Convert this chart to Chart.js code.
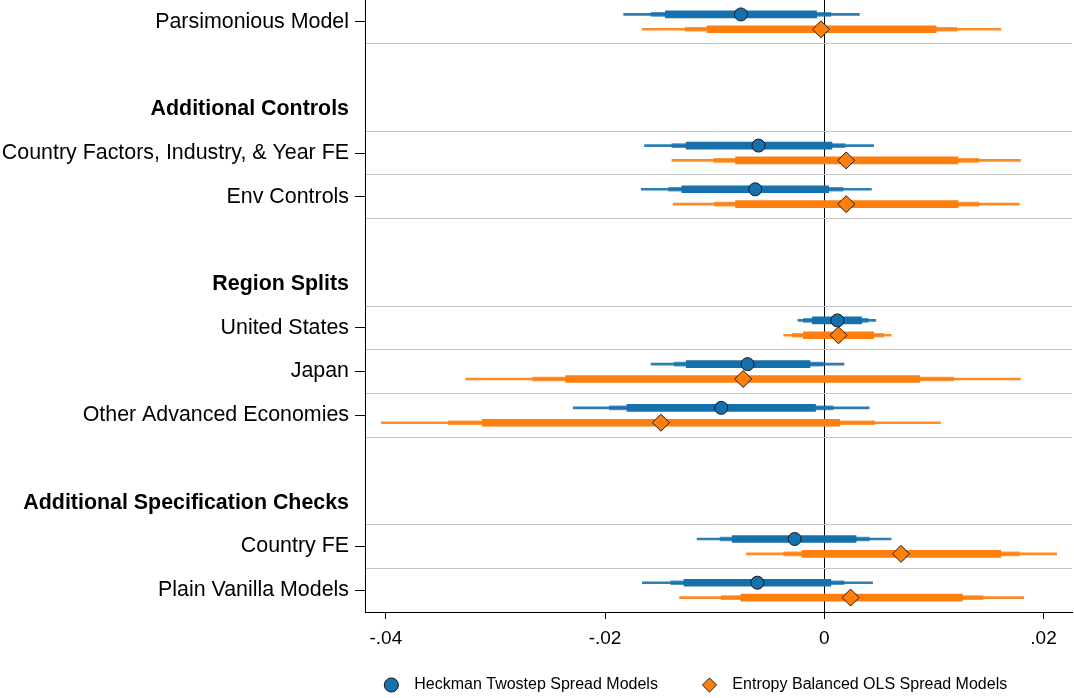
<!DOCTYPE html>
<html>
<head>
<meta charset="utf-8">
<script src="https://cdn.jsdelivr.net/npm/chart.js@4.4.0/dist/chart.umd.min.js"></script>
<style>
html, body { margin: 0; padding: 0; overflow: hidden; background: #fff; }
#wrap { width: 1074px; height: 703px; }
</style>
</head>
<body>
<div id="wrap"><canvas id="chart"></canvas></div>
<script>
// rows from top to bottom, '' = spacer row
const rowLabels = [
    "Parsimonious Model", "", "Additional Controls",
    "Country Factors, Industry, & Year FE", "Env Controls", "", "Region Splits",
    "United States", "Japan", "Other Advanced Economies", "", "Additional Specification Checks",
    "Country FE", "Plain Vanilla Models"
];
const headerLabels = ["Additional Controls", "Region Splits", "Additional Specification Checks"];
const models = [
    "Parsimonious Model", "Country Factors, Industry, & Year FE", "Env Controls",
    "United States", "Japan", "Other Advanced Economies", "Country FE", "Plain Vanilla Models"
];

// Heckman Twostep Spread Models
const heckEst = [-0.0076, -0.0060, -0.0063, 0.0012, -0.0070, -0.0094, -0.0027, -0.0061];
const heckOuter = [[-0.0183, 0.0032], [-0.0164, 0.0045], [-0.0167, 0.0043], [-0.0024, 0.0047], [-0.0158, 0.0018], [-0.0229, 0.0041], [-0.0116, 0.0061], [-0.0166, 0.0044]];
const heckMid = [[-0.0158, 0.0006], [-0.0139, 0.0019], [-0.0142, 0.0017], [-0.0019, 0.0040], [-0.0137, -0.0001], [-0.0196, 0.0008], [-0.0095, 0.0041], [-0.0140, 0.0018]];
const heckInner = [[-0.0145, -0.0007], [-0.0126, 0.0007], [-0.0130, 0.0004], [-0.0011, 0.0034], [-0.0126, -0.0013], [-0.0180, -0.0008], [-0.0084, 0.0029], [-0.0128, 0.0006]];

// Entropy Balanced OLS Spread Models
const ebEst = [-0.0003, 0.0020, 0.0020, 0.0013, -0.0074, -0.0149, 0.0070, 0.0024];
const ebOuter = [[-0.0166, 0.0161], [-0.0139, 0.0179], [-0.0138, 0.0178], [-0.0037, 0.0061], [-0.0327, 0.0179], [-0.0404, 0.0106], [-0.0071, 0.0212], [-0.0132, 0.0182]];
const ebMid = [[-0.0127, 0.0121], [-0.0101, 0.0141], [-0.0100, 0.0141], [-0.0029, 0.0054], [-0.0266, 0.0118], [-0.0343, 0.0046], [-0.0037, 0.0178], [-0.0094, 0.0145]];
const ebInner = [[-0.0107, 0.0102], [-0.0081, 0.0122], [-0.0081, 0.0122], [-0.0019, 0.0045], [-0.0236, 0.0087], [-0.0312, 0.0014], [-0.0020, 0.0161], [-0.0076, 0.0126]];

const xTicks = [-0.04, -0.02, 0, 0.02];
const seriesNames = ["Heckman Twostep Spread Models", "Entropy Balanced OLS Spread Models"];

coefChart();

function coefChart() {
    const $chart = document.querySelector("#chart");
    if(!$chart) {
        return;
    }
    const FONT = "'Liberation Sans', Arial, Helvetica, sans-serif";
    const BLUE = "#1670ab";
    const ORANGE = "#fe7f0e";
    const NONE = "rgba(0,0,0,0)";

    const rowPos = models.map(m => rowLabels.indexOf(m) + 0.5);

    // label centres for the labelled axis, row borders for the grid axis
    const centres = rowLabels.map((l, i) => l ? i + 0.5 : null).filter(v => v !== null);
    const borders = [];
    rowPos.forEach(p => {
        [p - 0.5, p + 0.5].forEach(b => {
            if(b > 0 && b < rowLabels.length && !borders.includes(b)) borders.push(b);
        });
    });
    borders.sort((a, b) => a - b);

    const labelAt = v => (v % 1 === 0.5) ? rowLabels[Math.floor(v)] : null;
    const isHeader = v => headerLabels.includes(labelAt(v));
    const isModel = v => models.includes(labelAt(v));

    function bars(ci, offset, color, thickness, order) {
        return {
            type: "bar",
            indexAxis: "y",
            data: ci.map((c, i) => ({x: c, y: rowPos[i] + offset})),
            backgroundColor: color,
            borderWidth: 0,
            barThickness: thickness,
            grouped: false,
            order: order,
        };
    }

    function points(est, offset, color, style, radius, label) {
        return {
            type: "scatter",
            label: label,
            data: est.map((v, i) => ({x: v, y: rowPos[i] + offset})),
            pointStyle: style,
            pointRadius: radius,
            backgroundColor: color,
            borderColor: "#1a1a1a",
            borderWidth: 1,
            order: 0,
        };
    }

    const datasets = [
        bars(heckOuter, -0.17, "rgba(22,112,171,0.9)", 2, 5),
        bars(ebOuter, 0.17, "rgba(254,127,14,0.9)", 2, 5),
        bars(heckMid, -0.17, "rgba(22,112,171,0.75)", 4, 4),
        bars(ebMid, 0.17, "rgba(254,127,14,0.8)", 4, 4),
        bars(heckInner, -0.17, BLUE, 7, 3),
        bars(ebInner, 0.17, ORANGE, 7, 3),
        points(heckEst, -0.17, BLUE, "circle", 6.5, seriesNames[0]),
        points(ebEst, 0.17, ORANGE, "rectRot", 8.5, seriesNames[1]),
    ];

    new Chart($chart.getContext("2d"), {
        type: "bar",
        data: {datasets: datasets},
        options: {
            responsive: true,
            maintainAspectRatio: false,
            animation: false,
            layout: {autoPadding: false, padding: {top: 0, right: 2, bottom: 0, left: 0}},
            plugins: {
                tooltip: {enabled: false},
                legend: {
                    position: "bottom",
                    fullSize: false,
                    labels: {
                        usePointStyle: true,
                        boxWidth: 12,
                        boxHeight: 10,
                        padding: 10,
                        color: "#000",
                        font: {family: FONT, size: 16},
                        filter: (item, data) => data.datasets[item.datasetIndex].type === "scatter",
                        generateLabels: chart => {
                            const items = Chart.defaults.plugins.legend.labels.generateLabels(chart);
                            items.forEach(it => {
                                if(it.text === seriesNames[0]) it.text = "  " + it.text + "        ";
                                if(it.text === seriesNames[1]) it.text = "  " + it.text + "          ";
                            });
                            return items;
                        },
                    },
                },
            },
            scales: {
                x: {
                    type: "linear",
                    offset: false,
                    min: -0.0419,
                    max: 0.0226,
                    afterBuildTicks: s => { s.ticks = xTicks.map(v => ({value: v})); },
                    afterFit: s => { s.height = 55; s.paddingLeft = 0; s.paddingRight = 0; },
                    ticks: {
                        autoSkip: false,
                        maxRotation: 0,
                        padding: 8,
                        color: "#000",
                        font: {family: FONT, size: 19},
                        callback: v => v === 0 ? "0" : v.toFixed(2).replace("0.", "."),
                    },
                    grid: {
                        offset: false,
                        color: ctx => ctx.tick && ctx.tick.value === 0 ? "#000" : NONE,
                        tickColor: "#000",
                        tickLength: 7,
                        lineWidth: 1,
                    },
                    border: {color: "#000", width: 1},
                },
                // grey separators between model rows
                yGrid: {
                    type: "linear",
                    position: "left",
                    offset: false,
                    min: 0,
                    max: rowLabels.length,
                    reverse: true,
                    afterBuildTicks: s => { s.ticks = borders.map(v => ({value: v})); },
                    afterFit: s => { s.width = 0; s.paddingTop = 0; s.paddingBottom = 0; },
                    ticks: {display: false},
                    grid: {
                        offset: false,
                        color: "#c4c4c4",
                        lineWidth: 1,
                        drawTicks: false,
                    },
                    border: {display: false},
                },
                y: {
                    type: "linear",
                    offset: false,
                    min: 0,
                    max: rowLabels.length,
                    reverse: true,
                    afterBuildTicks: s => { s.ticks = centres.map(v => ({value: v})); },
                    afterFit: s => { s.width = 365; s.paddingTop = 0; s.paddingBottom = 0; },
                    ticks: {
                        autoSkip: false,
                        padding: 6,
                        color: "#000",
                        font: ctx => ({
                            family: FONT,
                            size: 21.4,
                            weight: ctx.tick && isHeader(ctx.tick.value) ? "bold" : "normal",
                        }),
                        callback: v => labelAt(v),
                    },
                    grid: {
                        offset: false,
                        drawOnChartArea: false,
                        tickColor: ctx => ctx.tick && isModel(ctx.tick.value) ? "#000" : NONE,
                        tickLength: 10,
                        lineWidth: 1,
                    },
                    border: {color: "#000", width: 1},
                },
            },
        },
    });
}
</script>
</body>
</html>
